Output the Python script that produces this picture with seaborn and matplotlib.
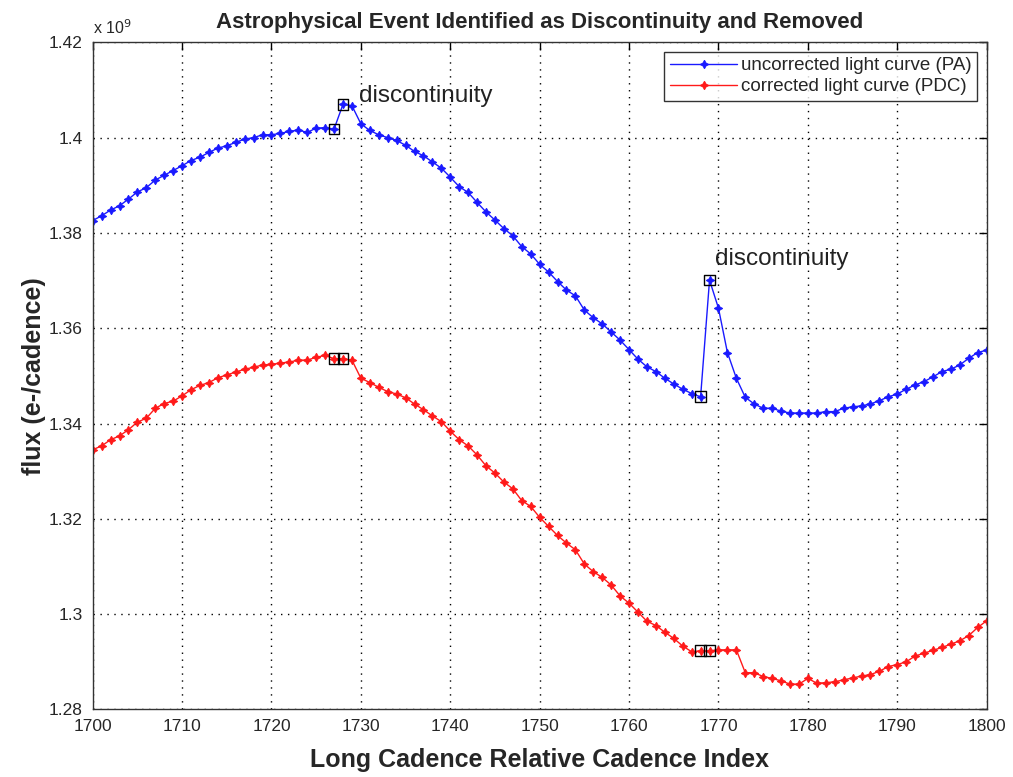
import numpy as np
import pandas as pd
import matplotlib
matplotlib.use("Agg")
import matplotlib.pyplot as plt
import seaborn as sns
from matplotlib.ticker import FormatStrFormatter

# cadence index 1700..1800
cadence = list(range(1700, 1801))

# uncorrected light curve (PA), flux in units of 1e9 e-/cadence
pa_flux = [
    1.3826, 1.3836, 1.3848, 1.3857, 1.3871, 1.3886, 1.3895, 1.3911, 1.3921, 1.3931,
    1.3941, 1.3952, 1.3959, 1.3969, 1.3978, 1.3983, 1.3990, 1.3997, 1.4000, 1.4006,
    1.4006, 1.4009, 1.4013, 1.4016, 1.4011, 1.4020, 1.4021, 1.4018, 1.4070, 1.4067,
    1.4029, 1.4015, 1.4006, 1.4000, 1.3994, 1.3984, 1.3971, 1.3962, 1.3949, 1.3936,
    1.3917, 1.3897, 1.3885, 1.3864, 1.3844, 1.3827, 1.3809, 1.3794, 1.3771, 1.3756,
    1.3734, 1.3718, 1.3698, 1.3680, 1.3668, 1.3638, 1.3622, 1.3609, 1.3592, 1.3575,
    1.3555, 1.3535, 1.3519, 1.3509, 1.3495, 1.3483, 1.3472, 1.3463, 1.3456, 1.3701,
    1.3642, 1.3549, 1.3495, 1.3455, 1.3441, 1.3432, 1.3432, 1.3426, 1.3422, 1.3422,
    1.3422, 1.3422, 1.3425, 1.3425, 1.3432, 1.3435, 1.3437, 1.3441, 1.3448, 1.3456,
    1.3462, 1.3472, 1.3481, 1.3488, 1.3498, 1.3509, 1.3514, 1.3523, 1.3537, 1.3549,
    1.3554,
]

# corrected light curve (PDC)
pdc_flux = [
    1.3345, 1.3353, 1.3366, 1.3374, 1.3387, 1.3403, 1.3411, 1.3432, 1.3442, 1.3447,
    1.3458, 1.3471, 1.3480, 1.3486, 1.3496, 1.3502, 1.3508, 1.3514, 1.3518, 1.3523,
    1.3524, 1.3527, 1.3529, 1.3533, 1.3533, 1.3539, 1.3543, 1.3536, 1.3536, 1.3533,
    1.3495, 1.3486, 1.3476, 1.3467, 1.3462, 1.3454, 1.3441, 1.3429, 1.3416, 1.3404,
    1.3384, 1.3366, 1.3353, 1.3334, 1.3311, 1.3296, 1.3277, 1.3263, 1.3238, 1.3226,
    1.3203, 1.3184, 1.3165, 1.3149, 1.3135, 1.3105, 1.3089, 1.3077, 1.3061, 1.3038,
    1.3023, 1.3004, 1.2985, 1.2976, 1.2962, 1.2949, 1.2933, 1.2921, 1.2923, 1.2923,
    1.2925, 1.2925, 1.2925, 1.2877, 1.2877, 1.2869, 1.2865, 1.2860, 1.2853, 1.2853,
    1.2865, 1.2855, 1.2856, 1.2858, 1.2862, 1.2866, 1.2870, 1.2873, 1.2880, 1.2890,
    1.2894, 1.2900, 1.2912, 1.2918, 1.2924, 1.2930, 1.2937, 1.2944, 1.2955, 1.2972,
    1.2986,
]

# cadences flagged as discontinuity
flagged = [1727, 1728, 1768, 1769]

df = pd.DataFrame({"cadence": cadence, "PA": pa_flux, "PDC": pdc_flux})
flag_df = df[df["cadence"].isin(flagged)]

sns.set_theme(style="white")
plt.rcParams["font.family"] = ["Liberation Sans", "DejaVu Sans"]

fig = plt.figure(figsize=(10.13, 7.77), dpi=100)
ax = fig.add_axes([0.0915, 0.087, 0.8825, 0.8585])

star = (4, 1, 0)
sns.lineplot(data=df, x="cadence", y="PA", ax=ax, color="#1a1aff", lw=1.0,
             marker=star, markersize=6, markeredgecolor="#1a1aff",
             label="uncorrected light curve (PA)")
sns.lineplot(data=df, x="cadence", y="PDC", ax=ax, color="#ff1a1a", lw=1.0,
             marker=star, markersize=6, markeredgecolor="#ff1a1a",
             label="corrected light curve (PDC)")

for col in ["PA", "PDC"]:
    sns.scatterplot(data=flag_df, x="cadence", y=col, ax=ax, marker="s", s=60,
                    facecolor="none", edgecolor="black", linewidth=1.0, zorder=5)

ax.text(1729.8, 1.4075, "discontinuity", fontsize=17.5, color="#222222")
ax.text(1769.6, 1.3732, "discontinuity", fontsize=17.5, color="#222222")

ax.set_xlim(1700, 1800)
ax.set_ylim(1.28, 1.42)
ax.set_xticks(np.arange(1700, 1801, 10))
ax.set_yticks(np.arange(1.28, 1.4201, 0.02))
ax.yaxis.set_major_formatter(FormatStrFormatter("%g"))
ax.tick_params(direction="in", top=True, right=True, length=6, labelsize=12.5,
               color="black", width=1, pad=7)
for s in ax.spines.values():
    s.set_color("#333333")
    s.set_linewidth(1.0)
ax.grid(True, linestyle=(0, (1, 4)), color="black", linewidth=1.0)

ax.set_title("Astrophysical Event Identified as Discontinuity and Removed",
             fontsize=16, fontweight="bold", pad=10)
ax.set_xlabel("Long Cadence Relative Cadence Index", fontsize=18,
              fontweight="bold", labelpad=10)
ax.set_ylabel("flux (e-/cadence)", fontsize=18, fontweight="bold", labelpad=2)
ax.text(0.0, 1.008, r"x 10$^9$", transform=ax.transAxes, fontsize=11.5, va="bottom")

leg = ax.legend(loc="upper right", fontsize=13.5, frameon=True, fancybox=False,
                edgecolor="black", borderaxespad=0.5, handlelength=3.6,
                handletextpad=0.2, borderpad=0.3, labelspacing=0.2)
leg.get_frame().set_linewidth(1.0)

fig.savefig("out.png", dpi=100)
